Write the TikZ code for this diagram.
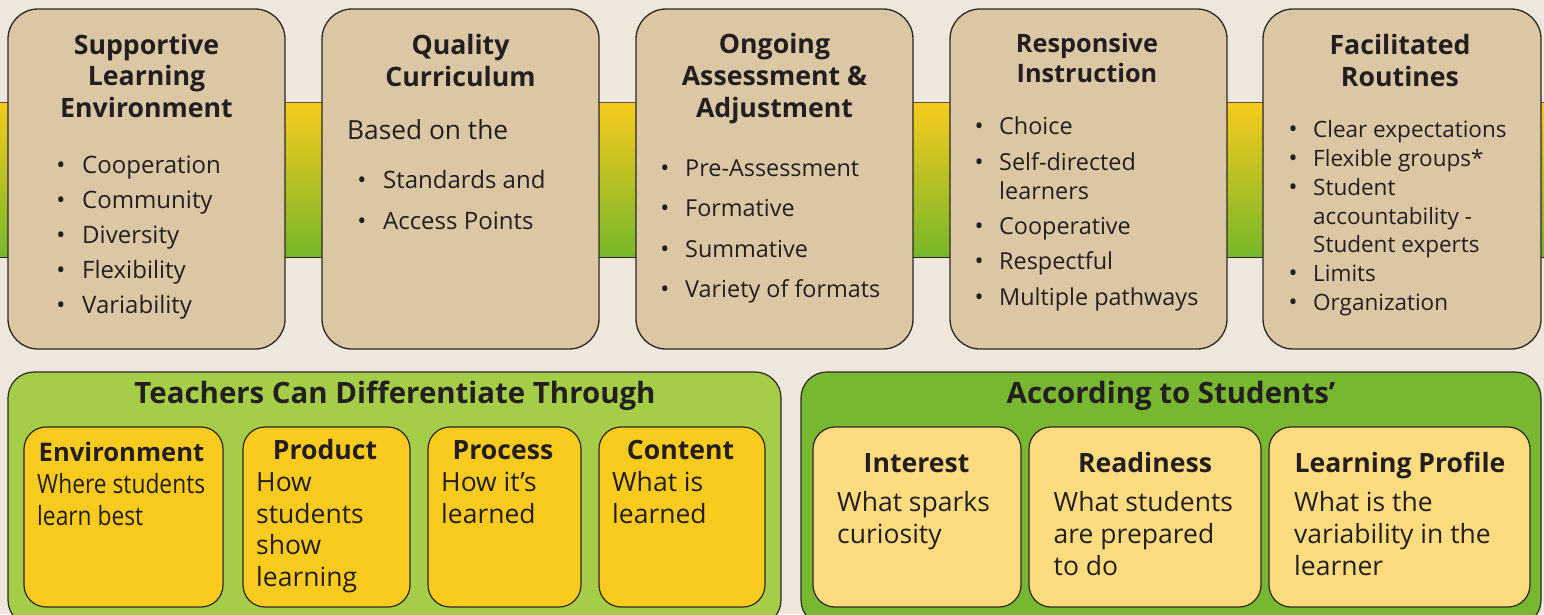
\documentclass[tikz,border=0pt]{standalone}
\usepackage{fontspec}
\setmainfont{Open Sans}
\newfontfamily\narrowfont[FakeStretch=0.86]{Open Sans}
\definecolor{pagebg}{HTML}{EFE7DB}
\definecolor{cardtan}{HTML}{DCC7A5}
\definecolor{bandtop}{HTML}{F6CA1D}
\definecolor{bandbot}{HTML}{77B72A}
\definecolor{lightgreen}{HTML}{A5CD47}
\definecolor{deepgreen}{HTML}{78B830}
\definecolor{gold}{HTML}{F9CB1F}
\definecolor{paleyellow}{HTML}{FDDC80}
\definecolor{ink}{HTML}{231F20}
\definecolor{edge}{HTML}{2B2724}

\tikzset{
  topcard/.style={draw=edge, line width=1.3pt, fill=cardtan, rounded corners=30pt,
    minimum width=277pt, minimum height=340pt, inner sep=0pt},
  panel/.style={draw=edge, line width=1.2pt, rounded corners=26pt},
  subcard/.style={draw=edge, line width=1.2pt, rounded corners=22pt,
    minimum height=180pt, inner sep=0pt},
  head/.style={anchor=base, inner sep=0pt, text=ink, font=\fontsize{26.7}{31}\bfseries},
  smallhead/.style={anchor=base, inner sep=0pt, text=ink, font=\fontsize{25.3}{30}\bfseries},
  item/.style={anchor=base west, inner sep=0pt, text=ink, font=\fontsize{24}{30}\selectfont},
  smallitem/.style={item, font=\fontsize{23.4}{30}\selectfont},
  tinyitem/.style={item, font=\fontsize{22.5}{30}\selectfont},
  lowitem/.style={item, font=\fontsize{26.5}{32}\selectfont},
  dot/.style={anchor=base, inner sep=0pt, text=ink, font=\fontsize{24}{30}\selectfont},
  bighead/.style={anchor=base, inner sep=0pt, text=ink, font=\fontsize{29.4}{34}\bfseries},
  subhead/.style={anchor=base, inner sep=0pt, text=ink, font=\fontsize{26.6}{30}\bfseries},
}

\begin{document}
\begin{tikzpicture}[x=1pt, y=-1pt]
\fill[pagebg] (0,0) rectangle (1544,614);
\useasboundingbox (0,0) rectangle (1544,614);

% horizontal gradient band behind the five cards
\shade[top color=bandtop, bottom color=bandbot] (0,102) rectangle (1544,257);
\draw[edge!80, line width=1pt] (0,102) -- (1544,102);
\draw[edge, line width=1pt] (0,257) -- (1544,257);

% five principle cards
\node[topcard] (c1) at (146.5,179) {};
\node[topcard] (c2) at (460.5,179) {};
\node[topcard] (c3) at (774.5,179) {};
\node[topcard] (c4) at (1088.5,179) {};
\node[topcard, minimum width=278pt] (c5) at (1402,179) {};

% card 1
\foreach \t/\yy [count=\k] in {Supportive/54, Learning/85.5, Environment/117}
  \node[head] (c1h\k) at (146.5,\yy) {\t};
\foreach \t/\yy [count=\k] in {Cooperation/173, Community/208, Diversity/243, Flexibility/278, Variability/313}{
  \node[dot] (c1d\k) at (61,\yy) {•};
  \node[item] (c1t\k) at (82,\yy) {\t};
}

% card 2
\foreach \t/\yy [count=\k] in {Quality/54, Curriculum/86}
  \node[head] (c2h\k) at (460.5,\yy) {\t};
\node[item, font=\fontsize{26.3}{30}\selectfont] (c2p) at (347,139) {Based on the};
\foreach \t/\yy [count=\k] in {Standards and/188, Access Points/229}{
  \node[dot] (c2d\k) at (362,\yy) {•};
  \node[item] (c2t\k) at (383,\yy) {\t};
}

% card 3
\foreach \t/\yy [count=\k] in {Ongoing/53.5, Assessment \&/85.5, Adjustment/117.5}
  \node[head] (c3h\k) at (774.5,\yy) {\t};
\foreach \t/\yy [count=\k] in {Pre-Assessment/176, Formative/216.5, Summative/257, Variety of formats/297.5}{
  \node[dot] (c3d\k) at (665,\yy) {•};
  \node[smallitem] (c3t\k) at (685,\yy) {\t};
}

% card 4
\foreach \t/\yy [count=\k] in {Responsive/52, Instruction/82}
  \node[smallhead] (c4h\k) at (1087,\yy) {\t};
\foreach \t/\yy [count=\k] in {Choice/134, Self-directed/170, Cooperative/234.5, Respectful/269.5, Multiple pathways/305}{
  \node[dot] (c4d\k) at (979,\yy) {•};
  \node[smallitem] (c4t\k) at (999,\yy) {\t};
}
\node[smallitem] (c4c) at (999,199) {learners};

% card 5
\foreach \t/\yy [count=\k] in {Facilitated/54, Routines/86}
  \node[head] (c5h\k) at (1400,\yy) {\t};
\foreach \t/\yy [count=\k] in {Clear expectations/137, Flexible groups*/166, Student/195, Limits/281, Organization/310}{
  \node[dot] (c5d\k) at (1293,\yy) {•};
  \node[tinyitem] (c5t\k) at (1313,\yy) {\t};
}
\node[tinyitem] (c5c1) at (1313,224) {accountability -};
\node[tinyitem] (c5c2) at (1313,252.5) {Student experts};

% lower left panel
\draw[panel, fill=lightgreen] (8,372) rectangle (781,626);
\node[bighead] (lh) at (395,403) {Teachers Can Differentiate Through};
\node[subcard, fill=gold, minimum width=199pt] (env) at (123.5,517) {};
\node[subcard, fill=gold, minimum width=167pt] (prod) at (326.5,517) {};
\node[subcard, fill=gold, minimum width=153pt] (proc) at (504.5,517) {};
\node[subcard, fill=gold, minimum width=166pt] (cont) at (682,517) {};

\node[subhead, font=\fontsize{25.6}{30}\bfseries] (envh) at (121.5,461) {Environment};
\node[item, font=\fontsize{26.5}{32}\narrowfont] (envt1) at (37,493) {Where students};
\node[item, font=\fontsize{26.5}{32}\narrowfont] (envt2) at (37,525) {learn best};

\node[subhead] (prodh) at (325,459.5) {Product};
\foreach \t/\yy [count=\k] in {How/491, students/523, show/554.5, learning/586}
  \node[lowitem] (prodt\k) at (256,\yy) {\t};

\node[subhead] (proch) at (503,459.5) {Process};
\foreach \t/\yy [count=\k] in {How it’s/491, learned/523}
  \node[lowitem] (proct\k) at (441,\yy) {\t};

\node[subhead] (conth) at (680.5,459.5) {Content};
\foreach \t/\yy [count=\k] in {What is/491, learned/523}
  \node[lowitem] (contt\k) at (612,\yy) {\t};

% lower right panel
\draw[panel, fill=deepgreen] (801,372) rectangle (1541,626);
\node[bighead] (rh) at (1171,403) {According to Students’};
\node[subcard, fill=paleyellow, minimum width=208pt] (intr) at (917,517) {};
\node[subcard, fill=paleyellow, minimum width=232pt] (ready) at (1145,517) {};
\node[subcard, fill=paleyellow, minimum width=261pt] (prof) at (1399.5,517) {};

\node[subhead] (intrh) at (916.5,472) {Interest};
\foreach \t/\yy [count=\k] in {What sparks/511, curiosity/543}
  \node[lowitem] (intrt\k) at (837,\yy) {\t};

\node[subhead] (readyh) at (1145,472) {Readiness};
\foreach \t/\yy [count=\k] in {What students/511, are prepared/543, to do/575}
  \node[lowitem] (readyt\k) at (1053.5,\yy) {\t};

\node[subhead] (profh) at (1400,472) {Learning Profile};
\foreach \t/\yy [count=\k] in {What is the/511, variability in the/543, learner/575}
  \node[lowitem] (proft\k) at (1294,\yy) {\t};
\end{tikzpicture}
\end{document}
